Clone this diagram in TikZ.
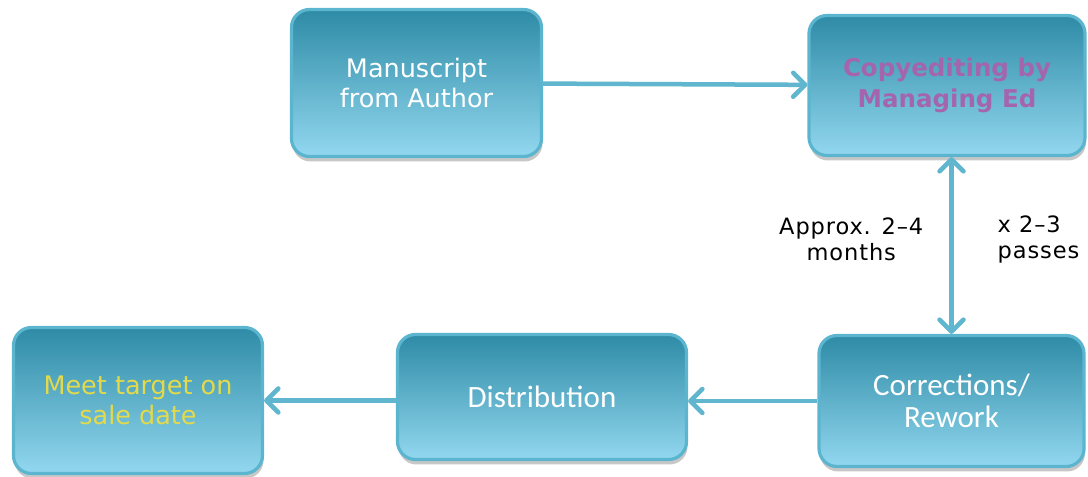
\documentclass[tikz,border=0pt]{standalone}
\usepackage{fontspec}
\setmainfont{DejaVu Sans}
\newfontfamily\calfont{Carlito}
\usetikzlibrary{arrows.meta, positioning, calc, shadows}

\definecolor{boxtop}{RGB}{46,139,166}
\definecolor{boxbot}{RGB}{146,215,239}
\definecolor{boxline}{RGB}{92,181,207}
\definecolor{setacor}{RGB}{96,182,206}
\definecolor{roxo}{RGB}{165,101,173}
\definecolor{amarelo}{RGB}{226,218,75}

\begin{document}
\begin{tikzpicture}[x=1pt, y=1pt,
    etapa/.style={rectangle, rounded corners=18pt, draw=boxline, line width=3.2pt,
        top color=boxtop, bottom color=boxbot, text=white, align=center,
        font=\fontsize{25.5}{30}\selectfont,
        drop shadow={shadow xshift=1pt, shadow yshift=-5pt, opacity=0.22, fill=black}},
    fluxo/.style={draw=setacor, line width=4.5pt,
        >={Straight Barb[length=12pt, width=24pt, round]}, ->},
    rotulo/.style={align=center, inner sep=0pt,
        font=\addfontfeature{LetterSpace=4}\fontsize{22.5}{26}\selectfont}]

    \useasboundingbox (0,0) rectangle (1088,477);

    % Etapas
    \node[etapa, minimum width=250pt, minimum height=147pt] (manuscrito) at (416.5,394) {Manuscript\\from Author};
    \node[etapa, minimum width=276pt, minimum height=140pt, text=roxo, font=\fontsize{24.5}{31}\selectfont\bfseries] (copidesque) at (947,391.5) {Copyediting by\\Managing Ed};
    \node[etapa, minimum width=265pt, minimum height=131pt, font=\calfont\fontsize{31}{32}\selectfont] (correcao) at (951.5,76) {Corrections/\\Rework};
    \node[etapa, minimum width=289pt, minimum height=125pt, font=\calfont\fontsize{31}{32}\selectfont] (distribuicao) at (542,80) {Distribution};
    \node[etapa, minimum width=249pt, minimum height=146pt, text=amarelo] (meta) at (138,76.5) {Meet target on\\sale date};

    % Setas
    \draw[fluxo] (manuscrito) -- (copidesque);
    \draw[fluxo, <->] (copidesque.south -| correcao.north) -- (correcao.north);
    \draw[fluxo] (correcao.west) -- (correcao.west -| distribuicao.east);
    \draw[fluxo] (distribuicao.west |- meta.east) -- (meta.east);

    % Rotulos da seta vertical
    \coordinate (meio_vert) at ($ (copidesque.south -| correcao.north)!0.5!(correcao.north) $);
    \node[rotulo, left=28pt, yshift=6pt] (rot_tempo) at (meio_vert) {Approx. 2–4\\months};
    \node[rotulo, right=46pt, yshift=6pt, align=left] (rot_passes) at (meio_vert) {x 2–3\\passes};

\end{tikzpicture}
\end{document}
